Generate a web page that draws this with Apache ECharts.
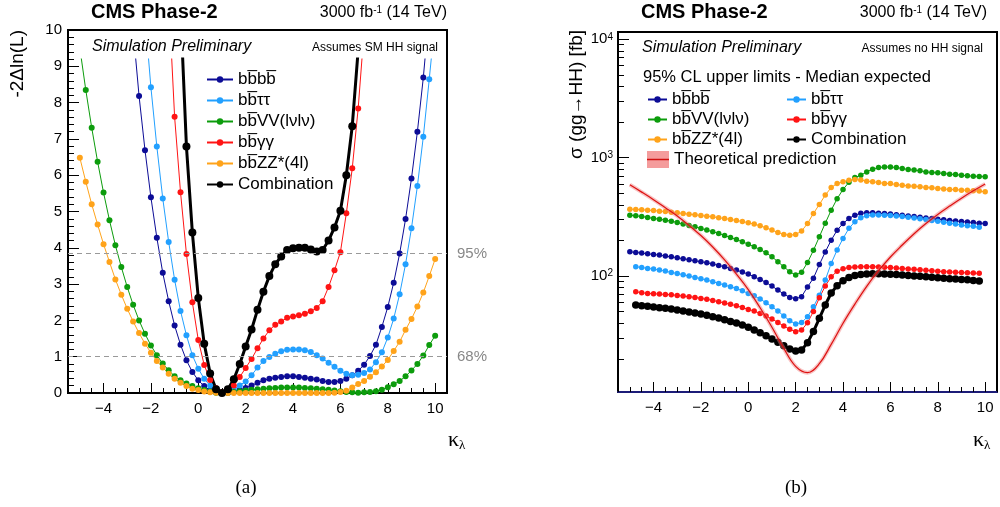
<!DOCTYPE html>
<html>
<head>
<meta charset="utf-8">
<script src="https://cdn.jsdelivr.net/npm/echarts@6/dist/echarts.min.js"></script>
<style>
html,body{margin:0;padding:0;background:#fff}
#chart{width:1000px;height:507px}
</style>
</head>
<body>
<div id="chart"></div>
<script>
// kappa_lambda scan points (step 0.25)
const kappa = [-5,-4.75,-4.5,-4.25,-4,-3.75,-3.5,-3.25,-3,-2.75,-2.5,-2.25,-2,-1.75,-1.5,-1.25,
  -1,-0.75,-0.5,-0.25,0,0.25,0.5,0.75,1,1.25,1.5,1.75,2,2.25,2.5,2.75,3,3.25,3.5,3.75,
  4,4.25,4.5,4.75,5,5.25,5.5,5.75,6,6.25,6.5,6.75,7,7.25,7.5,7.75,8,8.25,8.5,8.75,
  9,9.25,9.5,9.75,10]

// (a) -2 Delta ln L
const nllBBBB = [null,null,null,null, null,null,null,null, null,10.0,8.18,6.69, 5.39,4.28,3.31,2.53,
  1.86,1.33,0.90,0.58, 0.35,0.19,0.07,0.02, 0,0.01,0.04,0.08, 0.14,0.21,0.28,0.35,
  0.39,0.42,0.44,0.46, 0.46,0.44,0.42,0.39, 0.37,0.33,0.30,0.30, 0.33,0.39,0.49,0.61,
  0.78,1.02,1.33,1.82, 2.37,3.04,3.84,4.79, 5.91,7.20,8.69,10.5, null]
const nllTT = [null,null,null,null, null,null,null,null, null,null,null,10.4, 8.42,6.79,5.36,4.16,
  3.12,2.26,1.59,1.04, 0.67,0.39,0.20,0.07, 0,0.03,0.10,0.21, 0.32,0.49,0.70,0.88,
  0.99,1.08,1.15,1.19, 1.20,1.20,1.18,1.13, 1.04,0.95,0.83,0.72, 0.61,0.53,0.49,0.50,
  0.55,0.65,0.85,1.12, 1.53,2.05,2.72,3.55, 4.54,5.70,7.06,8.64, 10.3]
const nllVV = [9.5,8.35,7.31,6.37, 5.52,4.76,4.07,3.47, 2.92,2.43,2.00,1.63, 1.31,1.04,0.81,0.63,
  0.46,0.35,0.26,0.19, 0.13,0.08,0.04,0.01, 0,0.01,0.03,0.05, 0.07,0.09,0.10,0.12,
  0.13,0.14,0.15,0.15, 0.15,0.15,0.14,0.13, 0.12,0.10,0.09,0.07, 0.05,0.03,0.02,0.01,
  0.02,0.03,0.05,0.09, 0.16,0.24,0.33,0.46, 0.62,0.80,1.03,1.32, 1.58]
const nllGG = [null,null,null,null, null,null,null,null, null,null,null,null, null,null,null,10.9,
  7.61,5.53,3.83,2.50, 1.46,0.77,0.36,0.13, 0.02,0.05,0.21,0.44, 0.69,0.94,1.23,1.50,
  1.73,1.88,1.97,2.07, 2.11,2.14,2.18,2.25, 2.34,2.53,2.92,3.38, 3.88,4.95,6.19,7.84,
  9.97,null,null,null, null,null,null,null, null,null,null,null, null]
const nllZZ = [6.48,5.82,5.20,4.64, 4.10,3.61,3.13,2.71, 2.32,1.97,1.65,1.36, 1.11,0.88,0.70,0.53,
  0.39,0.28,0.19,0.12, 0.08,0.04,0.02,0.01, 0,0,0,0, 0,0,0,0,
  0,0,0,0, 0,0,0,0, 0,0,0,0.01, 0.03,0.06,0.15,0.25,
  0.33,0.45,0.57,0.73, 0.91,1.16,1.41,1.74, 2.04,2.38,2.77,3.22, 3.69]
const nllComb = [null,null,null,null, null,null,null,null, null,null,null,null, null,null,null,null,
  null,10.6,6.79,4.42, 2.62,1.36,0.54,0.10, 0,0.10,0.38,0.80, 1.28,1.75,2.29,2.79,
  3.22,3.55,3.76,3.94, 3.99,4.00,4.00,3.95, 3.90,3.94,4.20,4.56, 5.02,6.00,7.35,9.45,
  null,null,null,null, null,null,null,null, null,null,null,null, null]
const clLevels = [3.84, 1]
const clNames = ['95%', '68%']

// (b) 95% CL upper limits [fb]
const limBBBB = [160.4,158.4,156.4,154.3, 152.3,150.4,147.5,145.6, 142.8,140.1,137.4,134.7, 132.1,129.6,126.3,123.0,
  119.9,116.1,112.4,108.1, 104.0,98.7,93.7,88.4, 82.3,76.2,70.5,66.1, 64.4,67,81,96,
  125,160,201,244, 278,307,327,339, 343,343,340,337, 334,330,326,322,
  318,314,310,306, 302,299,295,292, 289,286,283,280, 278]
const limTT = [null,119.9,118.3,116.1, 114.6,112.4,110.2,107.4, 105.3,102.6,100,97.4, 95.0,92.5,89.6,86.7,
  83.9,81.3,78.7,75.2, 71.4,68.2,63.9,59.6, 55.1,50.7,46.0,42.0, 39.4,40.5,45.4,55,
  69,92.5,128,166, 208,253,288,311, 324,328,328,327, 325,322,318,314,
  310,305,300,295, 290,285,280,275, 270,266,263,258, null]
const limVV = [327.2,323.0,318.8,312.7, 306.7,302.7,296.9,291.2, 283.8,274.8,267.7,260.9, 252.6,244.5,236.7,229.2,
  220.4,212.0,203.9,194.9, 186.2,176.8,167.9,157.3, 145.6,132.1,119.9,108.8, 102.0,108,130,165,
  215,280,360,450, 540,620,680,711, 759,800,826,834, 834,826,811,794,
  786,774,759,749, 745,735,726,721, 711,703,698,695, 689]
const limGG = [null,73.8,72.3,71.4, 70.9,70.5,70.0,69.6, 68.7,67.8,66.9,66.1, 64.8,63.6,62.3,60.7,
  59.2,57.7,56.2,54.4, 52.3,50.7,48.4,46.0, 43.4,40.6,37.8,35.5, 33.9,35.0,40.3,50.3,
  65.5,82.5,98.5,110, 115.3,118,119.5,120, 120,120,119.5,119, 118,117,116,115,
  114,113,112,111, 110,109,108.5,108, 107,106.5,106,105.5, null]
const limZZ = [367.7,365.3,362.9,360.6, 358.3,353.7,351.4,346.9, 342.4,338.0,333.6,329.3, 325.1,320.9,316.7,310.7,
  306.7,300.8,295.0,289.3, 281.9,274.8,266.0,255.8, 244.5,233.7,224.7,221.8, 224.7,240,278,338,
  403,483,560,605, 625,645,654,648, 634,626,617,605, 605,593,586,578,
  575,568,560,557, 550,544,538,538, 532,532,525,522, 515]
const limComb = [null,56.9,56.2,55.5, 54.7,54.0,53.4,52.7, 51.7,50.7,49.7,48.7, 47.8,46.6,45.4,44.2,
  42.8,41.4,40.1,38.6, 36.9,35.0,33.3,31.4, 29.4,27.6,25.8,24.2, 23.3,23.7,27.4,34,
  44,57,72,83, 91.5,97.5,101,103, 104,104.5,104.5,104, 103.5,103,102,101,
  100,99.5,98.5,98, 97,96,95,94.5, 93.5,93,92,91, null]

// theoretical cross section
const theoryKappa = [-5,-4.5,-4,-3.5,-3,-2.5,-2,-1.5,-1,-0.5,0,0.5,1,1.5,2,2.5,3,3.5,4,4.5,5,5.5,6,6.5,7,7.5,8,8.5,9,9.5,10]
const theoryXS = [590,512,442,378,322,268,220,176,137,104,77,54,37,24.5,17.3,15.3,18.2,26.5,40,58,82,111,145,183,228,278,332,390,455,525,600]

// axis ticks
const xMajorTicks = [-4,-2,0,2,4,6,8,10]
const xMinorTicks = [-5.5,-5,-4.5,-3.5,-3,-2.5,-1.5,-1,-0.5,0.5,1,1.5,2.5,3,3.5,4.5,5,5.5,6.5,7,7.5,8.5,9,9.5,10.5]
const yDecades = [2, 3, 4]
const yMinorMult = [2,3,4,5,6,7,8,9]
const xsMin = 10.497, xsMax = 11525
const nllClip = 9.2

const N_BBBB = 'bb\u0305bb\u0305'
const N_TT = 'bb\u0305\u03c4\u03c4'
const N_VV = 'bb\u0305VV(l\u03bdl\u03bd)'
const N_GG = 'bb\u0305\u03b3\u03b3'
const N_ZZ = 'bb\u0305ZZ*(4l)'
const N_COMB = 'Combination'
const N_TH = 'Theoretical prediction'

const C_BBBB = '#0c0c96', C_TT = '#22a0ff', C_VV = '#0c9c0c', C_GG = '#ff1414', C_ZZ = '#ffa31a'

const FONT = 'Liberation Sans'
const chart = echarts.init(document.getElementById('chart'))

const minorLog = []
;[1, 2, 3].forEach(d => yMinorMult.forEach(m => minorLog.push(d + Math.log10(m))))

const minusFmt = v => String(v).replace('-', '\u2212')

function xMajor(grid, lineColor) {
  return {
    gridIndex: grid, type: 'value', min: -5.5, max: 10.5, position: 'bottom',
    axisLine: {onZero: false, lineStyle: {color: lineColor, width: 2}},
    axisTick: {inside: true, length: 10, customValues: xMajorTicks, lineStyle: {color: '#000'}},
    axisLabel: {customValues: xMajorTicks, formatter: minusFmt, fontSize: 15, color: '#000', margin: 8, fontFamily: FONT},
    splitLine: {show: false}
  }
}
function xMinor(grid) {
  return {
    gridIndex: grid, type: 'value', min: -5.5, max: 10.5, position: 'bottom',
    axisLine: {show: false, onZero: false},
    axisTick: {inside: true, length: 5, customValues: xMinorTicks, lineStyle: {color: '#000'}},
    axisLabel: {show: false}, splitLine: {show: false}
  }
}

function pts(xs, ys) {
  return xs.map((k, i) => [k, ys[i]])
}
function nllSeries(name, ys, color, size, width) {
  return {
    type: 'line', name, xAxisIndex: 2, yAxisIndex: 1, data: pts(kappa, ys),
    symbol: 'circle', symbolSize: size, itemStyle: {color}, lineStyle: {color, width},
    emphasis: {disabled: true}
  }
}
function limSeries(name, ys, color, size, width) {
  return {
    type: 'line', name, xAxisIndex: 3, yAxisIndex: 4, data: pts(kappa, ys),
    symbol: 'circle', symbolSize: size, itemStyle: {color}, lineStyle: {color, width},
    emphasis: {disabled: true}
  }
}

const legendText = {fontSize: 17, color: '#000', fontFamily: FONT}

const nllFirst = nllSeries(N_BBBB, nllBBBB, C_BBBB, 6, 1)
nllFirst.markLine = {
  silent: true, symbol: ['none', 'none'],
  lineStyle: {color: '#999', type: [5, 4], width: 1},
  label: {position: 'end', distance: 10, color: '#888', fontSize: 15, fontFamily: FONT, padding: [0, 0, 9, 0], formatter: '{b}'},
  data: clLevels.map((v, i) => ({yAxis: v, name: clNames[i]}))
}

const option = {
  animation: false,
  textStyle: {fontFamily: FONT},
  grid: [
    {left: 68, top: 30, width: 379, height: 363, show: true, borderColor: '#000', borderWidth: 2},
    {left: 68, top: 30 + (10 - nllClip) * 36.3, width: 379, height: nllClip * 36.3},
    {left: 618, top: 32, width: 379, height: 360, show: true, borderColor: '#000', borderWidth: 2}
  ],
  xAxis: [
    xMajor(0, '#000'), xMinor(0),
    {gridIndex: 1, type: 'value', min: -5.5, max: 10.5, show: false},
    xMajor(2, '#1c1c78'), xMinor(2)
  ],
  yAxis: [
    {
      gridIndex: 0, type: 'value', min: 0, max: 10, interval: 1, position: 'left',
      axisLine: {onZero: false, lineStyle: {color: '#000', width: 2}},
      axisTick: {inside: true, length: 11, lineStyle: {color: '#000'}},
      minorTick: {show: true, splitNumber: 5, length: 6, lineStyle: {color: '#000'}},
      axisLabel: {fontSize: 15, color: '#000', margin: 6, fontFamily: FONT},
      splitLine: {show: false}
    },
    {gridIndex: 1, type: 'value', min: 0, max: nllClip, show: false},
    {
      gridIndex: 2, type: 'value', min: Math.log10(xsMin), max: Math.log10(xsMax), position: 'left',
      axisLine: {onZero: false, lineStyle: {color: '#000', width: 2}},
      axisTick: {inside: true, length: 11, customValues: yDecades, lineStyle: {color: '#000'}},
      axisLabel: {
        customValues: yDecades, formatter: v => '10{sup|' + v + '}', fontSize: 15, color: '#000', margin: 5,
        fontFamily: FONT, rich: {sup: {fontSize: 10, verticalAlign: 'top', fontFamily: FONT, color: '#000'}}
      },
      splitLine: {show: false}
    },
    {
      gridIndex: 2, type: 'value', min: Math.log10(xsMin), max: Math.log10(xsMax), position: 'left',
      axisLine: {show: false, onZero: false},
      axisTick: {inside: true, length: 6, customValues: minorLog, lineStyle: {color: '#000'}},
      axisLabel: {show: false}, splitLine: {show: false}
    },
    {gridIndex: 2, type: 'log', logBase: 10, min: xsMin, max: xsMax, show: false}
  ],
  legend: [
    {left: 206, top: 71, orient: 'vertical', itemWidth: 26, itemHeight: 8, itemGap: 4, padding: 0,
      selectedMode: false, textStyle: legendText, data: [N_BBBB, N_TT, N_VV, N_GG, N_ZZ, N_COMB]},
    {left: 647, top: 91, orient: 'vertical', itemWidth: 19, itemHeight: 8, itemGap: 3, padding: 0,
      selectedMode: false, textStyle: legendText, data: [N_BBBB, N_VV, N_ZZ]},
    {left: 786, top: 91, orient: 'vertical', itemWidth: 19, itemHeight: 8, itemGap: 3, padding: 0,
      selectedMode: false, textStyle: legendText, data: [N_TT, N_GG, N_COMB]},
    {left: 647, top: 151, orient: 'vertical', itemWidth: 22, itemHeight: 17, padding: 0,
      selectedMode: false, textStyle: legendText,
      data: [{name: N_TH, icon: 'rect', itemStyle: {color: 'rgba(236,90,90,0.6)'}}]}
  ],
  series: [
    nllFirst,
    nllSeries(N_TT, nllTT, C_TT, 6, 1),
    nllSeries(N_VV, nllVV, C_VV, 6, 1),
    nllSeries(N_GG, nllGG, C_GG, 6, 1),
    nllSeries(N_ZZ, nllZZ, C_ZZ, 6, 1),
    nllSeries(N_COMB, nllComb, '#000', 8, 3),
    limSeries(N_BBBB, limBBBB, C_BBBB, 5.5, 1),
    limSeries(N_TT, limTT, C_TT, 5.5, 1),
    limSeries(N_VV, limVV, C_VV, 5.5, 1),
    limSeries(N_GG, limGG, C_GG, 5.5, 1),
    limSeries(N_ZZ, limZZ, C_ZZ, 5.5, 1),
    limSeries(N_COMB, limComb, '#000', 7.5, 3),
    {
      type: 'line', name: 'theoryBand', xAxisIndex: 3, yAxisIndex: 4, data: pts(theoryKappa, theoryXS),
      smooth: 0.4, symbol: 'none', lineStyle: {color: 'rgba(240,120,120,0.45)', width: 4}, z: 5
    },
    {
      type: 'line', name: N_TH, xAxisIndex: 3, yAxisIndex: 4, data: pts(theoryKappa, theoryXS),
      smooth: 0.4, symbol: 'none', itemStyle: {color: '#dd1111'}, lineStyle: {color: '#dd1111', width: 1.2}, z: 6
    }
  ],
  graphic: [
    {type: 'text', x: 91, y: 12, style: {text: 'CMS Phase-2', font: 'bold 20px ' + FONT, fill: '#000', verticalAlign: 'middle'}},
    {type: 'text', x: 447, y: 13, style: {text: '3000 fb{sup|-1} (14 TeV)', font: '16px ' + FONT, fill: '#000', align: 'right', verticalAlign: 'middle',
      rich: {sup: {fontSize: 10, verticalAlign: 'top', fontFamily: FONT}}}},
    {type: 'text', x: 92, y: 47, style: {text: 'Simulation Preliminary', font: 'italic 16px ' + FONT, fill: '#000', verticalAlign: 'middle'}},
    {type: 'text', x: 438, y: 48, style: {text: 'Assumes SM HH signal', font: '12px ' + FONT, fill: '#000', align: 'right', verticalAlign: 'middle'}},
    {type: 'text', x: 18, y: 30, rotation: Math.PI / 2, style: {text: '-2\u0394ln(L)', font: '19px ' + FONT, fill: '#000', align: 'right', verticalAlign: 'middle'}},
    {type: 'text', x: 448, y: 440, style: {text: '{k|\u03ba}{l|\u03bb}', verticalAlign: 'middle',
      rich: {k: {fontSize: 22, fontFamily: 'Liberation Serif'}, l: {fontSize: 13, fontFamily: 'Liberation Serif', verticalAlign: 'bottom', padding: [12, 0, 0, 0]}}}},
    {type: 'text', x: 246, y: 488, style: {text: '(a)', font: '19px Liberation Serif', fill: '#000', align: 'center', verticalAlign: 'middle'}},

    {type: 'text', x: 641, y: 12, style: {text: 'CMS Phase-2', font: 'bold 20px ' + FONT, fill: '#000', verticalAlign: 'middle'}},
    {type: 'text', x: 987, y: 13, style: {text: '3000 fb{sup|-1} (14 TeV)', font: '16px ' + FONT, fill: '#000', align: 'right', verticalAlign: 'middle',
      rich: {sup: {fontSize: 10, verticalAlign: 'top', fontFamily: FONT}}}},
    {type: 'text', x: 642, y: 48, style: {text: 'Simulation Preliminary', font: 'italic 16px ' + FONT, fill: '#000', verticalAlign: 'middle'}},
    {type: 'text', x: 983, y: 49, style: {text: 'Assumes no HH signal', font: '12px ' + FONT, fill: '#000', align: 'right', verticalAlign: 'middle'}},
    {type: 'text', x: 643, y: 77, style: {text: '95% CL upper limits - Median expected', font: '16.5px ' + FONT, fill: '#000', verticalAlign: 'middle'}},
    {type: 'line', shape: {x1: 647, y1: 159.5, x2: 669, y2: 159.5}, style: {stroke: '#d01010', lineWidth: 1.5}, z: 100},
    {type: 'text', x: 577, y: 30, rotation: Math.PI / 2, style: {text: '\u03c3 (gg\u2192HH) [fb]', font: '19px ' + FONT, fill: '#000', align: 'right', verticalAlign: 'middle'}},
    {type: 'text', x: 973, y: 440, style: {text: '{k|\u03ba}{l|\u03bb}', verticalAlign: 'middle',
      rich: {k: {fontSize: 22, fontFamily: 'Liberation Serif'}, l: {fontSize: 13, fontFamily: 'Liberation Serif', verticalAlign: 'bottom', padding: [12, 0, 0, 0]}}}},
    {type: 'text', x: 796, y: 488, style: {text: '(b)', font: '19px Liberation Serif', fill: '#000', align: 'center', verticalAlign: 'middle'}}
  ]
}
chart.setOption(option)
</script>
</body>
</html>
